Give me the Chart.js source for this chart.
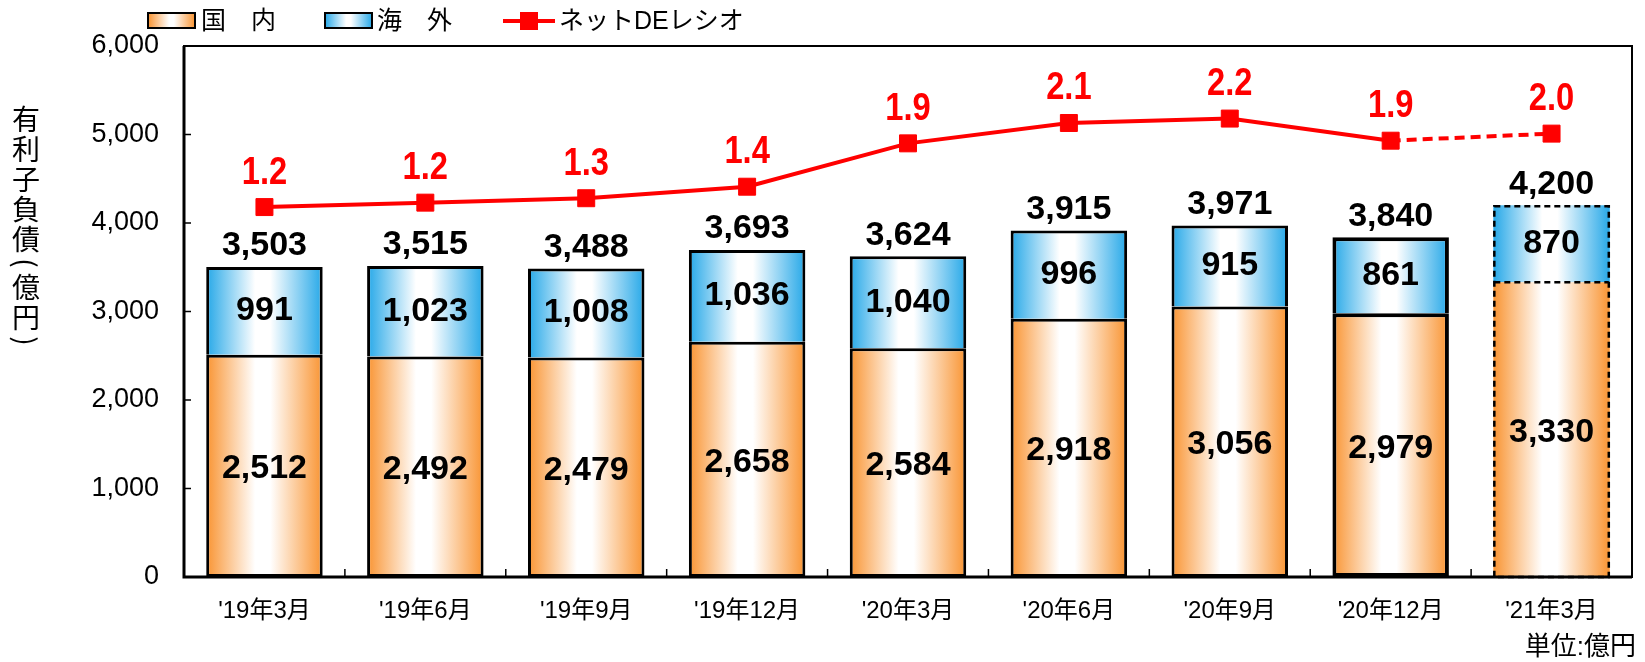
<!DOCTYPE html>
<html>
<head>
<meta charset="utf-8">
<script src="https://cdn.jsdelivr.net/npm/chart.js@4/dist/chart.umd.min.js"></script>
<style>
  html, body { margin: 0; padding: 0; background: #fff; }
  #wrap { width: 1645px; height: 662px; }
</style>
</head>
<body>
<div id="wrap"><canvas id="debtChart" width="1645" height="662"></canvas></div>
<script>
// data
const categories = ["'19年3月", "'19年6月", "'19年9月", "'19年12月", "'20年3月", "'20年6月", "'20年9月", "'20年12月", "'21年3月"];
const domestic = [2512, 2492, 2479, 2658, 2584, 2918, 3056, 2979, 3330];
const overseas = [991, 1023, 1008, 1036, 1040, 996, 915, 861, 870];
const totals = [3503, 3515, 3488, 3693, 3624, 3915, 3971, 3840, 4200];
const deRatio = [1.18, 1.23, 1.28, 1.41, 1.90, 2.13, 2.18, 1.93, 2.01];
const yTicks = [0, 1000, 2000, 3000, 4000, 5000, 6000];

const seriesNames = ['国　内', '海　外', 'ネットDEレシオ'];
const yTitle = '有利子負債(億円)';
const unitNote = '単位:億円';

const ORANGE = 'rgb(249,148,50)';
const BLUE = 'rgb(38,168,232)';
const RED = '#ff0000';
const BAR_PCT = 0.724;
const FORECAST = categories.length - 1;
const NUM_FONT = '"Liberation Sans", Arial, sans-serif';
const JP_FONT = '"Liberation Sans", "Noto Sans CJK JP", sans-serif';

function fmt(n) {
    return n.toLocaleString('en-US');
}

// horizontal edge-white-edge gradient for each bar
function barGradient(ctx, edge) {
    const chart = ctx.chart;
    const xs = chart.scales.x;
    if (!xs || ctx.dataIndex === undefined) return edge;
    const cx = xs.getPixelForValue(ctx.dataIndex);
    const half = xs.width / categories.length * BAR_PCT / 2;
    if (!Number.isFinite(cx) || !Number.isFinite(half) || half <= 0) return edge;
    const g = chart.ctx.createLinearGradient(cx - half, 0, cx + half, 0);
    g.addColorStop(0, edge);
    g.addColorStop(0.42, '#ffffff');
    g.addColorStop(0.55, '#ffffff');
    g.addColorStop(1, edge);
    return g;
}

function boxGradient(c, x, w, edge) {
    const g = c.createLinearGradient(x, 0, x + w, 0);
    g.addColorStop(0, edge);
    g.addColorStop(0.45, '#ffffff');
    g.addColorStop(0.55, '#ffffff');
    g.addColorStop(1, edge);
    return g;
}

// text squeezed a little horizontally, like the narrow gothic digits
function narrowText(c, text, x, y, sx) {
    c.save();
    c.translate(x, y);
    c.scale(sx, 1);
    c.fillText(text, 0, 0);
    c.restore();
}

const decorPlugin = {
    id: 'decor',
    afterDatasetsDraw(chart) {
        const c = chart.ctx;
        const dom = chart.getDatasetMeta(0).data;
        const ovs = chart.getDatasetMeta(1).data;
        const pts = chart.getDatasetMeta(2).data;

        // dashed outline of the forecast bar
        const b0 = dom[FORECAST], b1 = ovs[FORECAST];
        c.save();
        c.strokeStyle = '#000';
        c.lineWidth = 2.5;
        c.setLineDash([6, 4]);
        const l = b0.x - b0.width / 2 + 1, r = b0.x + b0.width / 2 - 1;
        c.strokeRect(l, b1.y + 1, r - l, b0.base - b1.y - 1);
        c.beginPath();
        c.moveTo(l, b0.y);
        c.lineTo(r, b0.y);
        c.stroke();
        c.restore();

        c.save();
        c.textAlign = 'center';
        c.textBaseline = 'middle';
        for (let i = 0; i < categories.length; i++) {
            c.fillStyle = '#000';
            c.font = 'bold 34px ' + NUM_FONT;
            c.fillText(fmt(domestic[i]), dom[i].x, (dom[i].y + dom[i].base) / 2 + 3);
            c.fillText(fmt(overseas[i]), ovs[i].x, (ovs[i].y + ovs[i].base) / 2);
            c.fillText(fmt(totals[i]), ovs[i].x, ovs[i].y - 21);
            c.fillStyle = RED;
            c.font = 'bold 38px ' + NUM_FONT;
            narrowText(c, deRatio[i].toFixed(1), pts[i].x, pts[i].y - 34, 0.86);
        }
        c.restore();
    },
    afterDraw(chart) {
        const c = chart.ctx;
        const a = chart.chartArea;
        const xs = chart.scales.x, ys = chart.scales.y;

        // plot frame
        c.save();
        c.strokeStyle = '#000';
        c.lineWidth = 2;
        c.strokeRect(a.left, a.top, a.right - a.left, a.bottom - a.top);
        c.lineWidth = 3;
        c.beginPath();
        c.moveTo(a.left, a.top);
        c.lineTo(a.left, a.bottom);
        c.lineTo(a.right, a.bottom);
        c.stroke();

        // inner tick marks
        c.lineWidth = 1.5;
        c.beginPath();
        yTicks.slice(1, -1).forEach(v => {
            const y = ys.getPixelForValue(v);
            c.moveTo(a.left, y);
            c.lineTo(a.left + 7, y);
        });
        for (let i = 0; i < categories.length - 1; i++) {
            const x = (xs.getPixelForValue(i) + xs.getPixelForValue(i + 1)) / 2;
            c.moveTo(x, a.bottom);
            c.lineTo(x, a.bottom - 8);
        }
        c.stroke();
        c.restore();

        // legend
        c.save();
        c.textBaseline = 'middle';
        c.textAlign = 'left';
        c.font = '25px ' + JP_FONT;
        c.lineWidth = 2;
        c.strokeStyle = '#000';
        c.fillStyle = boxGradient(c, 148, 47, ORANGE);
        c.fillRect(148, 13, 47, 15);
        c.strokeRect(148, 13, 47, 15);
        c.fillStyle = '#000';
        c.fillText(seriesNames[0], 201, 22);
        c.fillStyle = boxGradient(c, 325, 47, BLUE);
        c.fillRect(325, 13, 47, 15);
        c.strokeRect(325, 13, 47, 15);
        c.fillStyle = '#000';
        c.fillText(seriesNames[1], 377, 22);
        c.strokeStyle = RED;
        c.lineWidth = 4;
        c.beginPath();
        c.moveTo(503, 21);
        c.lineTo(555, 21);
        c.stroke();
        c.fillStyle = RED;
        c.fillRect(520, 12, 18, 18);
        c.fillStyle = '#000';
        c.fillText(seriesNames[2], 559, 22);

        // vertical axis title
        c.font = '28px "Noto Sans CJK JP", sans-serif';
        c.textAlign = 'center';
        let y = 104;
        for (const ch of yTitle) {
            const paren = ch === '(' || ch === ')';
            const step = paren ? 18 : 30;
            const cy = y + step / 2;
            if (paren) {
                c.save();
                c.translate(26, cy);
                c.rotate(Math.PI / 2);
                c.fillText(ch, 0, 0);
                c.restore();
            } else {
                c.fillText(ch, 26, cy);
            }
            y += step;
        }

        // unit note
        c.textAlign = 'right';
        c.font = '26px ' + JP_FONT;
        c.fillText(unitNote, 1636, 648);
        c.restore();
    }
};

const chart = new Chart(document.getElementById('debtChart'), {
    data: {
        labels: categories,
        datasets: [
            {
                type: 'bar',
                label: seriesNames[0],
                data: domestic,
                stack: 'debt',
                order: 1,
                backgroundColor: ctx => barGradient(ctx, ORANGE),
                borderColor: '#000',
                borderWidth: ctx => ctx.dataIndex === FORECAST ? 0 : (ctx.dataIndex === 7 ? 4 : 3),
                borderSkipped: false,
                barPercentage: BAR_PCT,
                categoryPercentage: 1
            },
            {
                type: 'bar',
                label: seriesNames[1],
                data: overseas,
                stack: 'debt',
                order: 1,
                backgroundColor: ctx => barGradient(ctx, BLUE),
                borderColor: '#000',
                borderWidth: ctx => ctx.dataIndex === FORECAST ? 0 : (ctx.dataIndex === 7 ? 4 : 3),
                borderSkipped: 'bottom',
                barPercentage: BAR_PCT,
                categoryPercentage: 1
            },
            {
                type: 'line',
                label: seriesNames[2],
                data: deRatio,
                yAxisID: 'y2',
                order: 0,
                borderColor: RED,
                backgroundColor: RED,
                borderWidth: 4,
                tension: 0,
                pointStyle: 'rect',
                pointRadius: 12,
                pointBorderWidth: 1,
                pointBorderColor: RED,
                pointBackgroundColor: RED,
                segment: {
                    borderDash: ctx => ctx.p1DataIndex === FORECAST ? [10, 6] : undefined
                }
            }
        ]
    },
    options: {
        responsive: false,
        animation: false,
        devicePixelRatio: 1,
        layout: { padding: { left: 0, right: 7, top: 46, bottom: 0 } },
        plugins: {
            legend: { display: false },
            tooltip: { enabled: false }
        },
        scales: {
            x: {
                stacked: true,
                grid: { display: false, drawTicks: false },
                border: { display: false },
                ticks: {
                    color: '#000',
                    font: { family: JP_FONT, size: 24 },
                    padding: 20,
                    maxRotation: 0
                },
                afterFit: s => { s.height = 85; }
            },
            y: {
                stacked: true,
                min: yTicks[0],
                max: yTicks[yTicks.length - 1],
                grid: { display: false, drawTicks: false },
                border: { display: false },
                afterBuildTicks: s => { s.ticks = yTicks.map(v => ({ value: v })); },
                ticks: {
                    color: '#000',
                    font: { family: NUM_FONT, size: 27 },
                    padding: 25,
                    callback: v => fmt(v)
                },
                afterFit: s => { s.width = 184; }
            },
            y2: {
                display: false,
                min: -3,
                max: 3
            }
        }
    },
    plugins: [decorPlugin]
});
</script>
</body>
</html>
